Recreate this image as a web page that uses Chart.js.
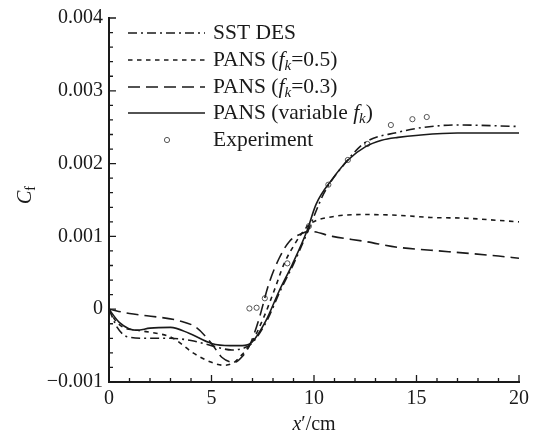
<!DOCTYPE html>
<html>
<head>
<meta charset="utf-8">
<script src="https://cdn.jsdelivr.net/npm/chart.js@4/dist/chart.umd.min.js"></script>
<style>
  html, body { margin: 0; padding: 0; background: #fff; }
</style>
</head>
<body>
<canvas id="cf" width="534" height="441"></canvas>
<script>
'use strict';

// skin friction along the wall, x' in cm
const sstX = [0, 0.4, 0.9, 1.8, 3.0, 4.0, 5.0, 6.0, 6.7, 7.0, 7.7, 8.35, 9.0, 9.7, 10.5, 11.5, 12.5, 14.1, 15.4, 17.0, 20];
const sstY = [0, -0.00025, -0.00038, -0.0004, -0.0004, -0.00043, -0.0005, -0.00056, -0.00052, -0.00046, -0.00016, 0.00025, 0.00062, 0.00107, 0.0016, 0.002, 0.00229, 0.00243, 0.0025, 0.00253, 0.00251];

const pans05X = [0, 0.3, 0.7, 1.4, 2.3, 2.9, 3.3, 4.1, 5.0, 5.6, 6.05, 6.4, 6.95, 7.55, 8.05, 8.55, 9.05, 9.4, 9.8, 10.9, 12.5, 14.1, 15.7, 17.4, 19, 20];
const pans05Y = [0, -0.00015, -0.00025, -0.00029, -0.00033, -0.00037, -0.00043, -0.0006, -0.00073, -0.00077, -0.00074, -0.00065, -0.00046, -0.00011, 0.00025, 0.00063, 0.00089, 0.00104, 0.00117, 0.00127, 0.0013, 0.00129, 0.00126, 0.00125, 0.00122, 0.0012];

const pans03X = [0, 1.0, 1.85, 3.45, 4.25, 5.0, 5.5, 6.1, 6.5, 6.9, 7.3, 7.8, 8.3, 8.8, 9.4, 9.8, 10.9, 12.5, 14.1, 15.7, 17.4, 19, 20];
const pans03Y = [0, -0.00006, -0.00009, -0.00016, -0.00025, -0.00047, -0.00066, -0.00073, -0.00065, -0.00047, -0.00015, 0.00035, 0.0007, 0.00093, 0.00104, 0.00107, 0.001, 0.00093, 0.00085, 0.00081, 0.00077, 0.00073, 0.0007];

const pansVarX = [0, 0.5, 1.35, 2.0, 3.0, 3.9, 5.0, 5.9, 6.5, 6.95, 7.65, 8.3, 8.95, 9.65, 10.1, 10.9, 11.7, 12.5, 13.3, 14.1, 15.1, 17, 20];
const pansVarY = [0, -0.00018, -0.00029, -0.00026, -0.00025, -0.00033, -0.00047, -0.0005, -0.0005, -0.00046, -0.00016, 0.00025, 0.00062, 0.00107, 0.00144, 0.00179, 0.00206, 0.00223, 0.00232, 0.00236, 0.00239, 0.00242, 0.00242];

const expX = [6.85, 7.2, 7.6, 8.7, 9.75, 10.7, 11.65, 12.6, 13.75, 14.8, 15.5];
const expY = [0.00001, 0.00002, 0.00015, 0.00063, 0.00114, 0.00171, 0.00205, 0.00227, 0.00253, 0.00261, 0.00264];

const seriesNames = ['SST DES', 'PANS (f_k=0.5)', 'PANS (f_k=0.3)', 'PANS (variable f_k)', 'Experiment'];
const xTicks = [0, 5, 10, 15, 20];
const yTicks = [-0.001, 0, 0.001, 0.002, 0.003, 0.004];

const ink = '#1a1a1a';
const serif = "'Liberation Serif', 'Times New Roman', serif";
const fontSize = 20;
const legendSize = 21.5;

const pts = (xs, ys) => xs.map((x, i) => ({ x: x, y: ys[i] }));

function lineSet(label, xs, ys, dash) {
  return {
    label: label,
    data: pts(xs, ys),
    showLine: true,
    borderColor: ink,
    borderWidth: 1.6,
    borderDash: dash,
    pointRadius: 0,
    cubicInterpolationMode: 'monotone',
    fill: false
  };
}

const datasets = [
  lineSet(seriesNames[0], sstX, sstY, [9, 4, 2, 4]),
  lineSet(seriesNames[1], pans05X, pans05Y, [4.5, 4.5]),
  lineSet(seriesNames[2], pans03X, pans03Y, [12, 6]),
  lineSet(seriesNames[3], pansVarX, pansVarY, []),
  {
    label: seriesNames[4],
    data: pts(expX, expY),
    showLine: false,
    pointRadius: 2.6,
    pointBorderWidth: 1,
    pointBorderColor: '#555',
    pointBackgroundColor: '#fff'
  }
];

// text with italic / subscript runs: parts = [[text, style]], style n|i|sub|isub
function richText(ctx, parts, x, y, size, draw) {
  let cx = x;
  parts.forEach(([t, st]) => {
    const small = st === 'sub' || st === 'isub';
    const it = st === 'i' || st === 'isub';
    ctx.font = (it ? 'italic ' : '') + (small ? Math.round(size * 0.68) : size) + 'px ' + serif;
    if (draw) ctx.fillText(t, cx, small ? y + size * 0.28 : y);
    cx += ctx.measureText(t).width;
  });
  return cx - x;
}

function nameParts(name) {
  const out = [];
  name.split(/(f_k)/).forEach(s => {
    if (s === 'f_k') { out.push(['f', 'i']); out.push(['k', 'isub']); }
    else if (s) out.push([s, 'n']);
  });
  return out;
}

const decor = {
  id: 'decor',
  afterDraw(chart) {
    const ctx = chart.ctx;
    const xs = chart.scales.x, ys = chart.scales.y;
    const area = chart.chartArea;
    ctx.save();
    ctx.strokeStyle = ink;
    ctx.fillStyle = ink;
    ctx.lineWidth = 1.3;

    // inward ticks, minor every 1 cm / 0.0002
    ctx.beginPath();
    for (let i = 0; i <= 20; i++) {
      const px = xs.getPixelForValue(i);
      const len = i % 5 === 0 ? 7 : 4;
      ctx.moveTo(px, area.bottom);
      ctx.lineTo(px, area.bottom - len);
    }
    for (let i = -5; i <= 20; i++) {
      const py = ys.getPixelForValue(i * 0.0002);
      const len = i % 5 === 0 ? 7 : 4;
      ctx.moveTo(area.left, py);
      ctx.lineTo(area.left + len, py);
    }
    ctx.stroke();

    // legend
    const rowY = [33, 60, 87, 113, 140];
    ctx.textBaseline = 'middle';
    ctx.textAlign = 'left';
    chart.data.datasets.forEach((ds, i) => {
      const y = rowY[i];
      if (ds.showLine) {
        ctx.save();
        ctx.lineWidth = ds.borderWidth;
        ctx.setLineDash(ds.borderDash);
        ctx.beginPath();
        ctx.moveTo(128, y);
        ctx.lineTo(205, y);
        ctx.stroke();
        ctx.restore();
      } else {
        ctx.save();
        ctx.strokeStyle = ds.pointBorderColor;
        ctx.lineWidth = 1;
        ctx.beginPath();
        ctx.arc(167, y, ds.pointRadius, 0, Math.PI * 2);
        ctx.fillStyle = '#fff';
        ctx.fill();
        ctx.stroke();
        ctx.restore();
      }
      richText(ctx, nameParts(ds.label), 213, y, legendSize, true);
    });

    // axis titles
    const xt = [['x', 'i'], ['\u2032/cm', 'n']];
    const xw = richText(ctx, xt, 0, 0, fontSize, false);
    richText(ctx, xt, (area.left + area.right) / 2 - xw / 2, 425, fontSize, true);

    const yt = [['C', 'i'], ['f', 'sub']];
    const yw = richText(ctx, yt, 0, 0, fontSize, false);
    ctx.translate(26, 195);
    ctx.rotate(-Math.PI / 2);
    richText(ctx, yt, -yw / 2, 0, fontSize, true);
    ctx.restore();
  }
};

Chart.defaults.font.family = serif;
Chart.defaults.font.size = fontSize;
Chart.defaults.color = ink;

new Chart(document.getElementById('cf'), {
  type: 'scatter',
  data: { datasets: datasets },
  options: {
    responsive: false,
    animation: false,
    layout: { padding: { top: 15, right: 14, bottom: 0, left: 0 } },
    plugins: { legend: { display: false }, tooltip: { enabled: false } },
    scales: {
      x: {
        type: 'linear',
        min: 0,
        max: 20,
        afterBuildTicks: s => { s.ticks = xTicks.map(v => ({ value: v })); },
        afterFit: s => { s.height = 59; },
        grid: { display: false, drawTicks: false },
        border: { display: true, width: 2, color: ink },
        ticks: { padding: 5, maxRotation: 0 }
      },
      y: {
        type: 'linear',
        min: -0.001,
        max: 0.004,
        afterBuildTicks: s => { s.ticks = yTicks.map(v => ({ value: v })); },
        afterFit: s => { s.width = 109; },
        grid: { display: false, drawTicks: false },
        border: { display: true, width: 2, color: ink },
        ticks: {
          padding: 6,
          callback: v => Math.abs(v) < 1e-9 ? '0' : (v < 0 ? '\u2212' : '') + Math.abs(v).toFixed(3)
        }
      }
    }
  },
  plugins: [decor]
});
</script>
</body>
</html>
